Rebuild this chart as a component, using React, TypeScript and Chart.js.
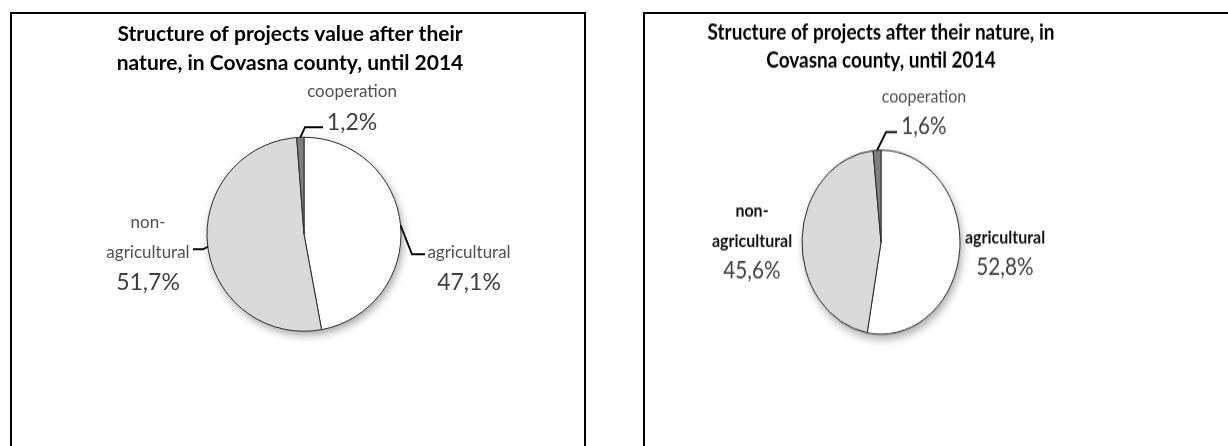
import React, { useEffect, useRef } from "react";
import { Chart, registerables } from "chart.js";

Chart.register(...registerables);

// ---------- data ----------
const categories = ["agricultural", "non-agricultural", "cooperation"];
const valueShares = [47.1, 51.7, 1.2];
const countShares = [52.8, 45.6, 1.6];
const titleValue = ["Structure of projects value after their", "nature, in Covasna county, until 2014"];
const titleCount = ["Structure of projects after their nature, in", "Covasna county, until 2014"];
const sliceColors = ["#ffffff", "#d9d9d9", "#7f7f7f"];

// ---------- label layout (styling) ----------
type LabelCfg = {
  dx: number;
  pctDy: number;
  step: number;
  leader?: [number, number][];
  bold?: boolean;
  nameColor?: string;
};

const leftLabels: LabelCfg[] = [
  { dx: 165, pctDy: 48, step: 30, leader: [[108, 20], [121, 20]] },
  { dx: -156, pctDy: 48, step: 30, leader: [[-101, 15], [-111, 15]] },
  { dx: 48, pctDy: -112, step: 31, leader: [[1, -107], [19, -107]] },
];

const rightLabels: LabelCfg[] = [
  { dx: 124, pctDy: 21.5, step: 25.8, bold: true, nameColor: "#111" },
  { dx: -129, pctDy: 24.9, step: 25.8, bold: true, nameColor: "#111" },
  { dx: 43, pctDy: -99.6, step: 25.8, leader: [[5, -94.4], [16, -94.4]] },
];

const fmtPct = (v: number) => `${v.toFixed(1).replace(".", ",")}%`;

const shiftPlugin = {
  id: "shiftArea",
  afterLayout(chart: any, _a: any, opts: any) {
    const dx = opts?.dx || 0;
    if (dx) {
      chart.chartArea.left += dx;
      chart.chartArea.right += dx;
    }
  },
};

const shadowPlugin = {
  id: "pieShadow",
  beforeDatasetsDraw(chart: any) {
    const meta = chart.getDatasetMeta(0);
    const arc = meta.data[0];
    if (!arc) return;
    const { x, y, outerRadius } = arc.getProps(["x", "y", "outerRadius"], true);
    const ctx = chart.ctx;
    ctx.save();
    ctx.shadowColor = "rgba(0,0,0,0.35)";
    ctx.shadowBlur = 9;
    ctx.shadowOffsetX = 2;
    ctx.shadowOffsetY = 4;
    ctx.fillStyle = "#ffffff";
    ctx.beginPath();
    ctx.arc(x, y, outerRadius, 0, Math.PI * 2);
    ctx.fill();
    ctx.restore();
  },
};

const labelPlugin = {
  id: "sliceLabels",
  afterDatasetsDraw(chart: any, _a: any, opts: any) {
    const meta = chart.getDatasetMeta(0);
    const ctx = chart.ctx;
    const values: number[] = chart.data.datasets[0].data;
    const names: string[] = chart.data.labels;
    (opts.items as LabelCfg[]).forEach((item, i) => {
      const arc = meta.data[i];
      if (!arc) return;
      const { x, y, startAngle, endAngle, outerRadius } = arc.getProps(
        ["x", "y", "startAngle", "endAngle", "outerRadius"],
        true
      );
      const mid = (startAngle + endAngle) / 2;
      ctx.save();
      if (item.leader) {
        ctx.strokeStyle = "#000";
        ctx.lineWidth = opts.leaderWidth;
        ctx.beginPath();
        ctx.moveTo(x + Math.cos(mid) * outerRadius, y + Math.sin(mid) * outerRadius);
        item.leader.forEach((p) => ctx.lineTo(x + p[0], y + p[1]));
        ctx.stroke();
      }
      ctx.textAlign = "center";
      ctx.textBaseline = "middle";
      const lines = names[i].replace("-", "-\n").split("\n");
      ctx.font = `${item.bold ? "bold " : ""}${opts.nameSize}px Lato`;
      ctx.fillStyle = item.nameColor || opts.nameColor;
      lines.forEach((ln, k) => {
        ctx.fillText(ln, x + item.dx, y + item.pctDy - item.step * (lines.length - k));
      });
      ctx.font = `${opts.pctSize}px Lato`;
      ctx.fillStyle = opts.pctColor;
      ctx.fillText(fmtPct(values[i]), x + item.dx, y + item.pctDy);
      ctx.restore();
    });
  },
};

type PieProps = {
  width: number;
  height: number;
  values: number[];
  title: string[];
  titleSize: number;
  titleLineHeight: number;
  titlePadTop: number;
  padBottom: number;
  radius: number;
  shift: number;
  labels: LabelCfg[];
  nameSize: number;
  pctSize: number;
};

function PieChart(p: PieProps) {
  const ref = useRef<HTMLCanvasElement>(null);
  useEffect(() => {
    if (!ref.current) return;
    const chart = new Chart(ref.current, {
      type: "pie",
      data: {
        labels: categories,
        datasets: [
          {
            data: p.values,
            backgroundColor: sliceColors,
            borderColor: "#2b2b2b",
            borderWidth: 1,
            radius: p.radius,
          } as any,
        ],
      },
      options: {
        responsive: false,
        animation: false,
        events: [],
        layout: { padding: { top: 0, left: 0, right: 0, bottom: p.padBottom } },
        plugins: {
          legend: { display: false },
          tooltip: { enabled: false },
          title: {
            display: true,
            text: p.title,
            color: "#000",
            font: {
              family: "Lato",
              size: p.titleSize,
              weight: "bold",
              lineHeight: p.titleLineHeight / p.titleSize,
            },
            padding: { top: p.titlePadTop, bottom: 0 },
          },
          shiftArea: { dx: p.shift },
          sliceLabels: {
            items: p.labels,
            nameSize: p.nameSize,
            pctSize: p.pctSize,
            nameColor: "#505050",
            pctColor: "#404040",
            leaderWidth: 1.8,
          },
        } as any,
      },
      plugins: [shiftPlugin, shadowPlugin, labelPlugin],
    });
    return () => chart.destroy();
  }, []);
  return (
    <canvas
      ref={ref}
      width={p.width}
      height={p.height}
      style={{ display: "block", width: p.width, height: p.height }}
    />
  );
}

export default function App() {
  return (
    <div
      style={{
        position: "absolute",
        left: 0,
        top: 0,
        width: 1228,
        height: 446,
        overflow: "hidden",
        background: "#fff",
      }}
    >
      <div
        style={{
          position: "absolute",
          left: 10,
          top: 12,
          width: 576,
          height: 470,
          border: "2px solid #000",
          boxSizing: "border-box",
        }}
      />
      <div
        style={{
          position: "absolute",
          left: 643,
          top: 12,
          width: 640,
          height: 470,
          border: "2px solid #000",
          boxSizing: "border-box",
        }}
      />
      <div style={{ position: "absolute", left: 12, top: 14 }}>
        <PieChart
          width={556}
          height={432}
          values={valueShares}
          title={titleValue}
          titleSize={21}
          titleLineHeight={29}
          titlePadTop={6}
          padBottom={55.5}
          radius={97}
          shift={14}
          labels={leftLabels}
          nameSize={17}
          pctSize={23}
        />
      </div>
      <div
        style={{
          position: "absolute",
          left: 645,
          top: 14,
          transform: "scaleY(1.165)",
          transformOrigin: "0 0",
        }}
      >
        <PieChart
          width={472}
          height={371}
          values={countShares}
          title={titleCount}
          titleSize={19}
          titleLineHeight={24.4}
          titlePadTop={3.5}
          padBottom={31.6}
          radius={79}
          shift={0}
          labels={rightLabels}
          nameSize={16}
          pctSize={20.7}
        />
      </div>
    </div>
  );
}
